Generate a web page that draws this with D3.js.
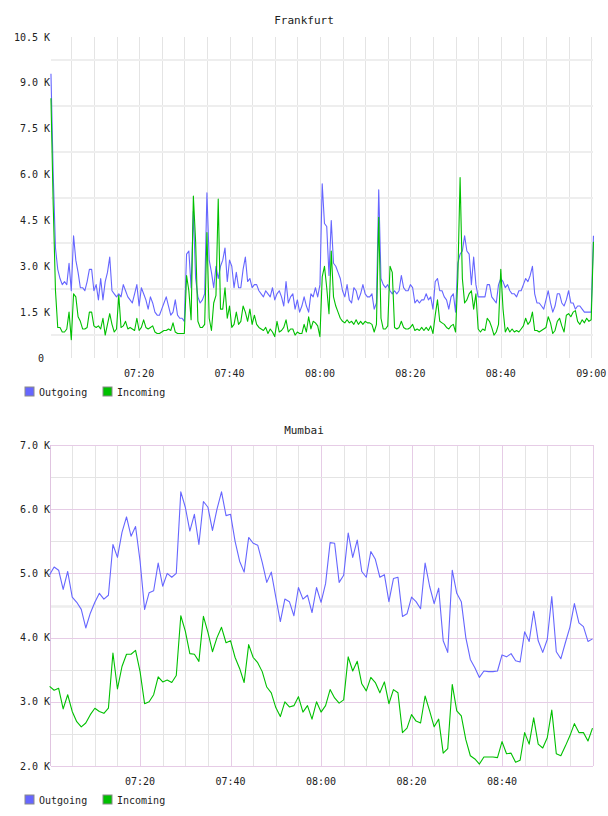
<!DOCTYPE html>
<html>
<head>
<meta charset="utf-8">
<script src="https://cdn.jsdelivr.net/npm/d3@7"></script>
<style>
    body { margin: 0; background: #fff; }
    text { font-family: "DejaVu Sans Mono", monospace; fill: #222; }
</style>
</head>
<body>
<div id="chart"></div>
<script>
// Frankfurt, one sample every 30 s from 07:00:30 (values in K)
const frankfurtOutgoing = [
    9.3, 6.0, 3.6, 2.9, 2.6, 2.4, 2.5, 2.4, 3.1, 2.2,
    4.0, 3.2, 2.8, 2.3, 2.3, 2.2, 2.5, 2.9, 2.9, 2.2,
    2.4, 1.9, 2.6, 1.9, 2.5, 2.8, 3.3, 2.2, 2.1, 2.0,
    2.1, 2.0, 2.4, 2.2, 2.0, 1.9, 1.8, 2.1, 2.4, 1.7,
    2.3, 2.1, 1.9, 1.6, 2.0, 1.8, 1.5, 1.4, 1.4, 1.6,
    1.8, 2.0, 1.7, 1.4, 1.5, 1.9, 1.4, 1.3, 1.3, 1.2,
    3.4, 3.5, 2.3, 4.8, 2.6, 2.0, 1.8, 1.9, 2.1, 5.4,
    3.2, 2.8, 2.3, 3.0, 2.6, 3.0, 3.2, 3.6, 2.5, 3.2,
    3.0, 2.3, 2.8, 2.3, 2.3, 2.9, 3.3, 2.5, 2.6, 2.3,
    2.4, 2.4, 2.2, 2.1, 2.0, 2.2, 2.1, 2.0, 2.3, 1.9,
    2.1, 2.2, 2.0, 1.7, 2.5, 1.8, 2.0, 2.1, 1.6, 1.9,
    1.5, 1.7, 2.0, 1.7, 1.5, 2.1, 2.0, 2.3, 2.0, 2.4,
    5.7, 4.4, 4.3, 2.7, 4.5, 3.1, 3.0, 2.8, 2.6, 2.2,
    2.0, 2.4, 1.9, 1.8, 2.3, 2.2, 1.9, 2.1, 2.4, 2.1,
    2.0, 2.0, 2.1, 1.6, 1.8, 5.5, 2.6, 2.4, 2.3, 2.4,
    2.2, 2.1, 2.2, 2.1, 2.2, 2.7, 2.3, 2.2, 2.2, 2.4,
    2.3, 1.8, 1.9, 1.8, 1.9, 1.9, 2.1, 1.9, 2.0, 1.6,
    2.5, 2.6, 2.2, 2.2, 2.0, 1.9, 1.6, 2.0, 2.1, 1.5,
    3.1, 3.4, 3.5, 4.0, 3.5, 3.4, 2.4, 3.3, 2.4, 2.0,
    2.0, 2.0, 2.0, 2.4, 2.4, 2.0, 1.9, 1.8, 2.4, 2.6,
    2.5, 2.3, 2.4, 2.2, 2.1, 2.1, 2.0, 2.2, 2.2, 2.4,
    2.6, 2.5, 2.7, 3.0, 2.1, 1.8, 1.8, 1.7, 1.6, 1.9,
    2.2, 1.8, 1.5, 1.7, 2.1, 2.1, 1.8, 1.7, 1.9, 2.2,
    1.8, 1.8, 1.6, 1.7, 1.7, 1.6, 1.5, 1.5, 1.5, 1.5,
    4.0
];
const frankfurtIncoming = [
    8.5, 5.0, 2.2, 1.0, 1.0, 0.85, 0.85, 0.95, 1.5, 0.6,
    2.1, 2.0, 1.35, 1.2, 0.95, 0.95, 1.0, 1.5, 1.5, 1.05,
    1.0, 1.05, 0.95, 1.3, 0.75, 1.1, 1.45, 1.1, 0.85, 0.95,
    2.05, 1.0, 1.05, 1.2, 0.95, 1.0, 0.95, 0.9, 1.3, 0.9,
    1.0, 1.25, 1.0, 0.95, 1.0, 1.05, 0.85, 0.8, 0.8, 0.85,
    0.9, 0.9, 0.95, 0.9, 1.15, 0.85, 0.8, 0.8, 0.8, 0.8,
    2.7, 2.2, 1.25, 5.3, 3.8, 1.2, 1.0, 1.0, 1.1, 4.1,
    1.3, 0.9, 1.8, 2.05, 5.2, 1.6, 1.6, 2.3, 1.3, 1.7,
    1.0, 1.1, 1.5, 1.1, 1.2, 1.7, 1.5, 1.2, 1.6, 1.1,
    1.4, 1.1, 1.0, 0.95, 0.9, 1.0, 0.8, 0.95, 0.85, 0.7,
    1.2, 0.85, 0.9, 1.0, 1.25, 0.85, 0.95, 0.95, 0.75, 0.85,
    0.8, 0.8, 1.1, 0.85, 1.35, 0.95, 1.2, 1.15, 1.05, 0.7,
    2.65, 3.0, 2.3, 1.45, 3.5, 2.0, 1.7, 1.5, 1.3, 1.2,
    1.15, 1.25, 1.15, 1.2, 1.1, 1.25, 1.1, 1.2, 1.1, 1.2,
    1.15, 1.15, 1.1, 0.85, 1.1, 4.6, 1.3, 0.95, 0.95, 1.05,
    3.0, 2.8, 1.0, 0.95, 1.0, 1.2, 1.0, 0.95, 0.95, 1.0,
    1.1, 0.9, 0.95, 0.9, 1.0, 0.9, 1.0, 0.9, 1.05, 0.8,
    1.4, 1.9, 1.2, 1.15, 1.1, 1.0, 0.95, 1.05, 1.1, 0.85,
    2.65, 5.9, 2.6, 1.8, 1.9, 2.1, 2.2, 1.6, 2.1, 0.95,
    0.85, 0.95, 0.9, 1.3, 1.2, 1.0, 0.75, 0.85, 1.1, 2.9,
    1.6, 0.85, 1.0, 0.85, 0.95, 0.85, 0.9, 0.85, 0.95, 1.05,
    1.3, 1.1, 1.2, 1.5, 0.9, 0.9, 0.85, 0.9, 0.95, 1.0,
    1.35, 1.15, 0.8, 0.9, 1.2, 1.3, 1.05, 0.85, 1.4, 1.45,
    1.35, 1.5, 1.55, 1.2, 1.1, 1.25, 1.15, 1.3, 1.2, 1.25,
    3.8
];

// Mumbai, one sample per minute from 07:00 (values in K)
const mumbaiOutgoing = [
    4.98, 5.10, 5.05, 4.75, 5.03, 4.63, 4.55, 4.44, 4.15, 4.38,
    4.55, 4.69, 4.60, 4.66, 5.45, 5.25, 5.64, 5.88, 5.58, 5.73,
    5.19, 4.44, 4.70, 4.73, 5.16, 4.80, 5.00, 4.94, 5.00, 6.27,
    6.03, 5.66, 5.92, 5.45, 6.12, 6.03, 5.67, 6.00, 6.27, 5.90,
    5.92, 5.50, 5.19, 5.02, 5.56, 5.47, 5.44, 5.17, 4.86, 5.02,
    4.63, 4.25, 4.60, 4.56, 4.34, 4.78, 4.60, 4.66, 4.39, 4.78,
    4.55, 4.84, 5.48, 5.47, 4.86, 4.97, 5.63, 5.25, 5.52, 5.03,
    4.94, 5.34, 5.22, 4.94, 4.98, 4.56, 4.92, 4.94, 4.33, 4.37,
    4.63, 4.56, 4.45, 5.16, 4.80, 4.53, 4.77, 3.95, 3.77, 5.05,
    4.69, 4.56, 4.00, 3.66, 3.53, 3.38, 3.48, 3.47, 3.47, 3.48,
    3.73, 3.70, 3.75, 3.64, 3.62, 4.09, 3.94, 4.41, 3.95, 3.77,
    3.97, 4.64, 3.78, 3.67, 3.92, 4.16, 4.53, 4.23, 4.17, 3.94,
    3.98
];
const mumbaiIncoming = [
    3.24, 3.18, 3.21, 2.89, 3.11, 2.85, 2.69, 2.61, 2.67, 2.80,
    2.90, 2.85, 2.82, 2.90, 3.76, 3.20, 3.55, 3.74, 3.74, 3.80,
    3.47, 2.97, 3.00, 3.11, 3.39, 3.31, 3.34, 3.30, 3.41, 4.34,
    4.10, 3.75, 3.74, 3.63, 4.33, 4.08, 3.78, 4.00, 4.16, 3.92,
    3.95, 3.69, 3.52, 3.30, 3.89, 3.69, 3.61, 3.47, 3.23, 3.14,
    2.91, 2.77, 3.00, 2.92, 2.94, 3.08, 2.84, 2.94, 2.73, 3.00,
    2.84, 2.94, 3.19, 3.06, 2.98, 3.03, 3.70, 3.48, 3.63, 3.28,
    3.17, 3.38, 3.30, 3.14, 3.31, 2.97, 3.19, 3.14, 2.52, 2.59,
    2.80, 2.70, 2.67, 3.09, 2.86, 2.61, 2.73, 2.20, 2.27, 3.27,
    2.86, 2.78, 2.41, 2.16, 2.11, 2.03, 2.14, 2.14, 2.14, 2.13,
    2.38, 2.19, 2.20, 2.06, 2.09, 2.52, 2.34, 2.75, 2.34, 2.28,
    2.44, 2.87, 2.19, 2.16, 2.31, 2.47, 2.66, 2.52, 2.52, 2.39,
    2.59
];

const seriesNames = ["Outgoing", "Incoming"];
const frankfurtYTicks = [0, 1.5, 3.0, 4.5, 6.0, 7.5, 9.0, 10.5];
const frankfurtYGrid = [0.75, 2.25, 3.75, 5.25, 6.75, 8.25, 9.75];
const mumbaiYTicks = [2, 3, 4, 5, 6, 7];
const mumbaiYMinor = [2.5, 3.5, 4.5, 5.5, 6.5];
const frankfurtXTicks = ["07:20", "07:40", "08:00", "08:20", "08:40", "09:00"];
const mumbaiXTicks = ["07:20", "07:40", "08:00", "08:20", "08:40"];

const color = d3.scaleOrdinal().domain(seriesNames).range(["#6666ff", "#00c000"]);

const svg = d3.select("#chart")
    .append("svg")
    .attr("width", 608)
    .attr("height", 816);

const parseHM = d3.timeParse("%H:%M");
const start = parseHM("07:00");
const end = parseHM("09:00");

function drawPanel(p) {
    const g = svg.append("g");

    const x = d3.scaleTime().domain([start, end]).range(p.xRange);
    const y = d3.scaleLinear().domain(p.yDomain).range([p.bottom, p.top]);

    // title
    g.append("text")
        .attr("x", 304)
        .attr("y", p.titleY)
        .attr("text-anchor", "middle")
        .style("font-size", "11px")
        .text(p.title);

    // vertical grid, every 5 minutes
    const minutes = d3.timeMinute.every(5).range(start, d3.timeMinute.offset(end, 1));
    minutes.forEach(m => {
        const major = p.framed && m.getMinutes() % 20 === 0;
        if (!p.framed && +m === +start) return;
        const xx = Math.round(x(m)) + 0.5;
        g.append("line")
            .attr("x1", xx).attr("x2", xx)
            .attr("y1", p.top).attr("y2", p.bottom)
            .attr("stroke", major ? "#e6cce6" : "#e4e4e4")
            .attr("stroke-width", 1);
    });

    // horizontal grid
    if (p.framed) {
        mumbaiYMinor.forEach(v => {
            g.append("line")
                .attr("x1", 51).attr("x2", 593)
                .attr("y1", Math.round(y(v)) + 0.5).attr("y2", Math.round(y(v)) + 0.5)
                .attr("stroke", v === 4.5 ? "#ededed" : "#e4e4e4")
                .attr("stroke-width", v === 4.5 ? 2.5 : 1);
        });
        p.yTicks.forEach(v => {
            g.append("line")
                .attr("x1", 51).attr("x2", 593)
                .attr("y1", Math.round(y(v)) + 0.5).attr("y2", Math.round(y(v)) + 0.5)
                .attr("stroke", "#e6cce6");
        });
        g.append("line")
            .attr("x1", 50.5).attr("x2", 50.5)
            .attr("y1", p.top).attr("y2", p.bottom)
            .attr("stroke", "#e0c4e0");
    } else {
        frankfurtYGrid.forEach(v => {
            g.append("line")
                .attr("x1", 51).attr("x2", 593)
                .attr("y1", Math.round(y(v))).attr("y2", Math.round(y(v)))
                .attr("stroke", "#eeeeee")
                .attr("stroke-width", 2);
        });
    }

    // y labels
    g.selectAll(".ylab")
        .data(p.yTicks)
        .enter()
        .append("text")
        .attr("x", d => d === 0 ? 44 : 50)
        .attr("y", d => y(d))
        .attr("dy", "0.35em")
        .attr("text-anchor", "end")
        .style("font-size", "10px")
        .text(d => d === 0 ? "0" : d.toFixed(1) + " K");

    // x labels
    g.selectAll(".xlab")
        .data(p.xTicks)
        .enter()
        .append("text")
        .attr("x", d => x(parseHM(d)))
        .attr("y", p.bottom + 19)
        .attr("text-anchor", "middle")
        .style("font-size", "10px")
        .text(d => d);

    // lines
    const line = d3.line()
        .x((d, i) => x(d3.timeSecond.offset(start, p.offset + i * p.step)))
        .y(d => y(d));

    [p.out, p.inc].forEach((vals, k) => {
        g.append("path")
            .datum(vals)
            .attr("d", line)
            .attr("fill", "none")
            .attr("stroke", color(seriesNames[k]))
            .attr("stroke-width", 1.1)
            .attr("stroke-linejoin", "round");
    });

    // legend
    const legend = g.append("g").attr("transform", `translate(25,${p.legendY})`);
    seriesNames.forEach((name, i) => {
        legend.append("rect")
            .attr("x", i * 78).attr("y", -5)
            .attr("width", 9).attr("height", 9)
            .attr("fill", color(name))
            .attr("stroke", "#8a8a8a")
            .attr("stroke-width", 1);
        legend.append("text")
            .attr("x", i * 78 + 14)
            .attr("y", 0)
            .attr("dy", "0.35em")
            .style("font-size", "10px")
            .text(name);
    });
}

drawPanel({
    title: "Frankfurt", titleY: 24,
    top: 37, bottom: 358, yDomain: [0, 10.5], xRange: [48.7, 591.2],
    yTicks: frankfurtYTicks, xTicks: frankfurtXTicks,
    out: frankfurtOutgoing, inc: frankfurtIncoming, step: 30, offset: 30,
    legendY: 392, framed: false
});

drawPanel({
    title: "Mumbai", titleY: 434,
    top: 445, bottom: 766, yDomain: [2, 7], xRange: [49.6, 592.5],
    yTicks: mumbaiYTicks, xTicks: mumbaiXTicks,
    out: mumbaiOutgoing, inc: mumbaiIncoming, step: 60, offset: 0,
    legendY: 800, framed: true
});
</script>
</body>
</html>
